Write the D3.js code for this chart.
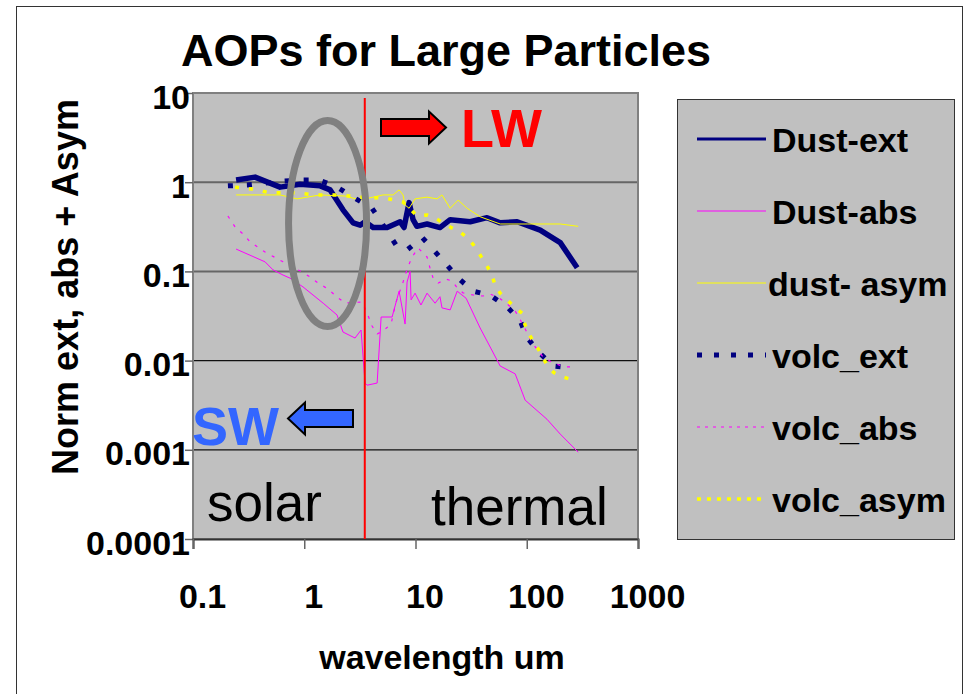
<!DOCTYPE html>
<html>
<head>
<meta charset="utf-8">
<script src="https://cdn.jsdelivr.net/npm/d3@7"></script>
<style>
  body { margin: 0; background: #fff; }
  svg { display: block; font-family: "Liberation Sans", Arial, sans-serif; }
</style>
</head>
<body>
<div id="chart"></div>
<script>
// Axis ticks
let xTicks = [0.1, 1, 10, 100, 1000];
let xTickLabels = ['0.1', '1', '10', '100', '1000'];
let yTicks = [10, 1, 0.1, 0.01, 0.001, 0.0001];
let yTickLabels = ['10', '1', '0.1', '0.01', '0.001', '0.0001'];

// Series: wavelength (um) and normalised value
let dustExtWl = [0.244, 0.361, 0.606, 0.917, 1.39, 1.71, 2.23, 2.75, 3.18, 3.52, 4.16, 5.56, 7.27, 7.89, 8.76, 9.51, 10.3, 12.7, 16.6, 20.5, 31.0, 44.0, 57.7, 82.0, 132, 200, 284];
let dustExt = [1.06, 1.14, 0.88, 0.95, 0.91, 0.82, 0.49, 0.35, 0.33, 0.36, 0.31, 0.31, 0.36, 0.31, 0.59, 0.38, 0.32, 0.34, 0.31, 0.38, 0.36, 0.40, 0.35, 0.36, 0.29, 0.21, 0.11];

let dustAbsWl = [0.244, 0.444, 0.524, 0.645, 0.745, 0.975, 1.48, 1.97, 2.23, 2.86, 3.24, 3.52, 3.67, 4.52, 4.91, 6.16, 7.12, 8.06, 8.40, 8.94, 9.13, 9.91, 11.2, 12.7, 15.0, 16.6, 17.3, 20.5, 23.7, 28.5, 38.1, 57.7, 78.7, 96.8, 152, 200, 290];
let dustAbs = [0.178, 0.128, 0.104, 0.091, 0.084, 0.067, 0.044, 0.0325, 0.0209, 0.0179, 0.022, 0.0056, 0.0053, 0.0056, 0.0308, 0.0308, 0.060, 0.0257, 0.076, 0.100, 0.048, 0.057, 0.042, 0.057, 0.044, 0.052, 0.039, 0.037, 0.060, 0.050, 0.0232, 0.0087, 0.0071, 0.0036, 0.0022, 0.0015, 0.00094];

let dustAsymWl = [0.244, 0.606, 0.861, 1.39, 2.33, 3.18, 4.16, 5.11, 6.29, 7.12, 7.73, 8.06, 8.76, 9.91, 12.7, 15.6, 17.3, 20.5, 24.2, 29.1, 38.1, 57.7, 101, 200, 290];
let dustAsym = [0.72, 0.72, 0.65, 0.72, 0.70, 0.63, 0.68, 0.72, 0.72, 0.82, 0.72, 0.555, 0.51, 0.65, 0.68, 0.65, 0.72, 0.51, 0.63, 0.51, 0.41, 0.34, 0.34, 0.34, 0.32];

let volcExtWl = [0.206, 0.306, 0.645, 0.917, 1.33, 1.89, 2.75, 4.07, 6.83, 8.40, 11.5, 18.5, 24.2, 33.0, 46.9, 66.7, 87.2, 101, 132, 173, 261];
let volcExt = [0.91, 0.93, 1.03, 1.06, 1.06, 0.91, 0.68, 0.51, 0.19, 0.174, 0.24, 0.124, 0.084, 0.060, 0.054, 0.040, 0.028, 0.018, 0.012, 0.0087, 0.0083];

let volcAbsWl = [0.206, 0.239, 0.282, 0.326, 0.444, 0.645, 0.955, 1.13, 1.33, 1.64, 1.97, 2.33, 3.31, 3.67, 4.07, 4.52, 5.11, 6.03, 6.69, 7.73, 8.40, 9.32, 10.55, 12.7, 13.5, 14.4, 16.0, 18.8, 21.3, 24.2, 26.8, 33.0, 40.5, 46.9, 56.5, 66.7, 78.7, 92.8, 105, 114, 140, 173, 221, 261];
let volcAbs = [0.418, 0.315, 0.262, 0.214, 0.165, 0.128, 0.0985, 0.0866, 0.0741, 0.0635, 0.0516, 0.0442, 0.0454, 0.0342, 0.0244, 0.0199, 0.0215, 0.0257, 0.0454, 0.076, 0.106, 0.145, 0.183, 0.145, 0.109, 0.084, 0.074, 0.082, 0.078, 0.0635, 0.0573, 0.0544, 0.053, 0.0558, 0.0503, 0.0431, 0.036, 0.0251, 0.0184, 0.0153, 0.011, 0.0094, 0.0085, 0.0085];

let volcAsymWl = [0.239, 0.339, 0.493, 0.861, 1.20, 2.10, 2.98, 5.33, 7.73, 10.3, 12.7, 15.3, 17.7, 20.9, 24.7, 29.1, 33.0, 38.1, 42.3, 47.9, 52.0, 57.7, 66.7, 77.1, 90.9, 94.8, 101, 114, 127, 140, 156, 176, 208, 245, 290];
let volcAsym = [0.88, 0.84, 0.76, 0.76, 0.72, 0.72, 0.68, 0.665, 0.60, 0.42, 0.43, 0.39, 0.35, 0.31, 0.28, 0.24, 0.20, 0.153, 0.124, 0.096, 0.070, 0.057, 0.048, 0.040, 0.034, 0.027, 0.0215, 0.0166, 0.0135, 0.0107, 0.0085, 0.0073, 0.0066, 0.0062, 0.0062];

let seriesNames = ['Dust-ext', 'Dust-abs', 'dust- asym', 'volc_ext', 'volc_abs', 'volc_asym'];

// SW / LW split and the circled region (data space)
let splitWavelength = 3.5;
let circleWavelength = 1.62;
let circleValue = 0.344;

let width = 971;
let height = 694;
let plotLeft = 193;
let plotTop = 93;
let plotWidth = 445;
let plotHeight = 446;
let font = '"Liberation Sans", Arial, sans-serif';

let svg = d3.select('#chart')
.append('svg')
.attr('width', width)
.attr('height', height);

// frame round the whole picture
svg.append('rect')
.attr('x', 16.5)
.attr('y', 6.5)
.attr('width', 946)
.attr('height', 720)
.attr('fill', 'none')
.attr('stroke', '#333')
.attr('stroke-width', 1);

let x = d3.scaleLog()
.domain([0.1, 1000])
.range([plotLeft, plotLeft + plotWidth]);

let y = d3.scaleLog()
.domain([0.0001, 10])
.range([plotTop + plotHeight, plotTop]);

svg.append('text')
.attr('x', 446)
.attr('y', 66)
.attr('text-anchor', 'middle')
.style('font-size', '45px')
.style('font-weight', 'bold')
.text('AOPs for Large Particles');

// plot background
svg.append('rect')
.attr('x', plotLeft)
.attr('y', plotTop)
.attr('width', plotWidth)
.attr('height', plotHeight)
.attr('fill', '#c0c0c0');

// horizontal grid lines
svg.append('g')
.selectAll('line')
.data(yTicks.slice(1, -1))
.enter()
.append('line')
.attr('x1', plotLeft)
.attr('x2', plotLeft + plotWidth)
.attr('y1', d => y(d))
.attr('y2', d => y(d))
.attr('stroke', d => d >= 0.1 ? '#666' : '#111')
.attr('stroke-width', d => d >= 0.1 ? 2 : 1.2);

svg.append('rect')
.attr('x', plotLeft)
.attr('y', plotTop)
.attr('width', plotWidth)
.attr('height', plotHeight)
.attr('fill', 'none')
.attr('stroke', '#808080')
.attr('stroke-width', 2);

// Axes
let yAxis = svg.append('g')
.attr('transform', 'translate(' + plotLeft + ',0)')
.call(d3.axisLeft(y).tickValues(yTicks).tickFormat((d, i) => yTickLabels[i]).tickSize(8));
yAxis.select('.domain').remove();
yAxis.selectAll('line').attr('stroke', '#666').attr('stroke-width', 1.5);
yAxis.selectAll('text')
.attr('x', -3)
.attr('dy', 15)
.style('font-family', font)
.style('font-size', '34px')
.style('font-weight', 'bold')
.attr('fill', '#000');

let xAxis = svg.append('g')
.attr('transform', 'translate(0,' + (plotTop + plotHeight) + ')')
.call(d3.axisBottom(x).tickValues(xTicks).tickFormat((d, i) => xTickLabels[i]).tickSize(10));
xAxis.select('.domain')
.attr('stroke', '#333')
.attr('stroke-width', 2);
xAxis.selectAll('line').attr('stroke', '#666').attr('stroke-width', 1.5);
xAxis.selectAll('text')
.attr('x', 9)
.attr('y', 69)
.attr('dy', null)
.style('font-family', font)
.style('font-size', '34px')
.style('font-weight', 'bold')
.attr('fill', '#000');

svg.append('text')
.attr('transform', 'translate(78,' + 287 + ') rotate(-90)')
.attr('text-anchor', 'middle')
.style('font-size', '36px')
.style('font-weight', 'bold')
.text('Norm ext, abs + Asym');

svg.append('text')
.attr('x', 442)
.attr('y', 669)
.attr('text-anchor', 'middle')
.style('font-size', '34px')
.style('font-weight', 'bold')
.text('wavelength um');

// series lines
let lineGen = d3.line()
.x(d => x(d[0]))
.y(d => y(d[1]));

let series = [
  {wl: dustExtWl, v: dustExt, color: '#000080', width: 5.5, dash: null, legendWidth: 3, legendDash: null},
  {wl: dustAbsWl, v: dustAbs, color: '#ff00ff', width: 1, dash: null, legendWidth: 1, legendDash: null},
  {wl: dustAsymWl, v: dustAsym, color: '#ffff00', width: 1, dash: null, legendWidth: 1, legendDash: null},
  {wl: volcExtWl, v: volcExt, color: '#000080', width: 5, dash: '5,14', legendWidth: 5, legendDash: '5,12'},
  {wl: volcAbsWl, v: volcAbs, color: '#ff00ff', width: 1.2, dash: '3,7', legendWidth: 1, legendDash: '3,5'},
  {wl: volcAsymWl, v: volcAsym, color: '#ffff00', width: 3.5, dash: '4,10', legendWidth: 3.5, legendDash: '4,6'}
];

let lines = svg.append('g');
series.forEach(function(s) {
  lines.append('path')
  .datum(d3.zip(s.wl, s.v))
  .attr('d', lineGen)
  .attr('fill', 'none')
  .attr('stroke', s.color)
  .attr('stroke-width', s.width)
  .attr('stroke-linejoin', 'round')
  .attr('stroke-dasharray', s.dash);
});

// SW / LW divider
svg.append('line')
.attr('x1', x(splitWavelength))
.attr('x2', x(splitWavelength))
.attr('y1', plotTop + 5)
.attr('y2', plotTop + plotHeight)
.attr('stroke', '#ff0000')
.attr('stroke-width', 2);

// grey ellipse round the solar dip
svg.append('ellipse')
.attr('cx', x(circleWavelength))
.attr('cy', y(circleValue))
.attr('rx', 39)
.attr('ry', 103)
.attr('fill', 'none')
.attr('stroke', '#808080')
.attr('stroke-width', 7);

// block arrows: tip point, length, pointing direction
function blockArrow(tipX, tipY, len, dir, fill) {
  let head = 17, halfHead = 16, halfBody = 8.5;
  let pts = [
    [0, 0], [head, -halfHead], [head, -halfBody], [len, -halfBody],
    [len, halfBody], [head, halfBody], [head, halfHead]
  ].map(p => [tipX - dir * p[0], tipY + p[1]]);
  svg.append('polygon')
  .attr('points', pts.map(p => p.join(',')).join(' '))
  .attr('fill', fill)
  .attr('stroke', '#000')
  .attr('stroke-width', 2);
}
blockArrow(446, 127.5, 65, 1, '#ff0000');
blockArrow(288, 418.5, 65, -1, '#3366ff');

svg.append('text')
.attr('x', 461)
.attr('y', 147)
.attr('fill', '#ff0000')
.style('font-size', '54px')
.style('font-weight', 'bold')
.text('LW');

svg.append('text')
.attr('x', 192)
.attr('y', 445)
.attr('fill', '#3366ff')
.style('font-size', '54px')
.style('font-weight', 'bold')
.text('SW');

svg.append('text')
.attr('x', 207)
.attr('y', 521)
.style('font-size', '53px')
.text('solar');

svg.append('text')
.attr('x', 431)
.attr('y', 525)
.style('font-size', '53px')
.text('thermal');

// Legend
let legend = svg.append('g');
legend.append('rect')
.attr('x', 677.5)
.attr('y', 99.5)
.attr('width', 277)
.attr('height', 440)
.attr('fill', '#c0c0c0')
.attr('stroke', '#333')
.attr('stroke-width', 1);

let legendY = d3.scalePoint()
.domain(seriesNames)
.range([139, 499]);

seriesNames.forEach(function(name, i) {
  let s = series[i];
  legend.append('line')
  .attr('x1', 697)
  .attr('x2', 766)
  .attr('y1', legendY(name))
  .attr('y2', legendY(name))
  .attr('stroke', s.color)
  .attr('stroke-width', s.legendWidth)
  .attr('stroke-dasharray', s.legendDash);
  legend.append('text')
  .attr('x', name === 'dust- asym' ? 768 : 772)
  .attr('y', legendY(name) + 13)
  .style('font-size', '34px')
  .style('font-weight', 'bold')
  .text(name);
});
</script>
</body>
</html>
